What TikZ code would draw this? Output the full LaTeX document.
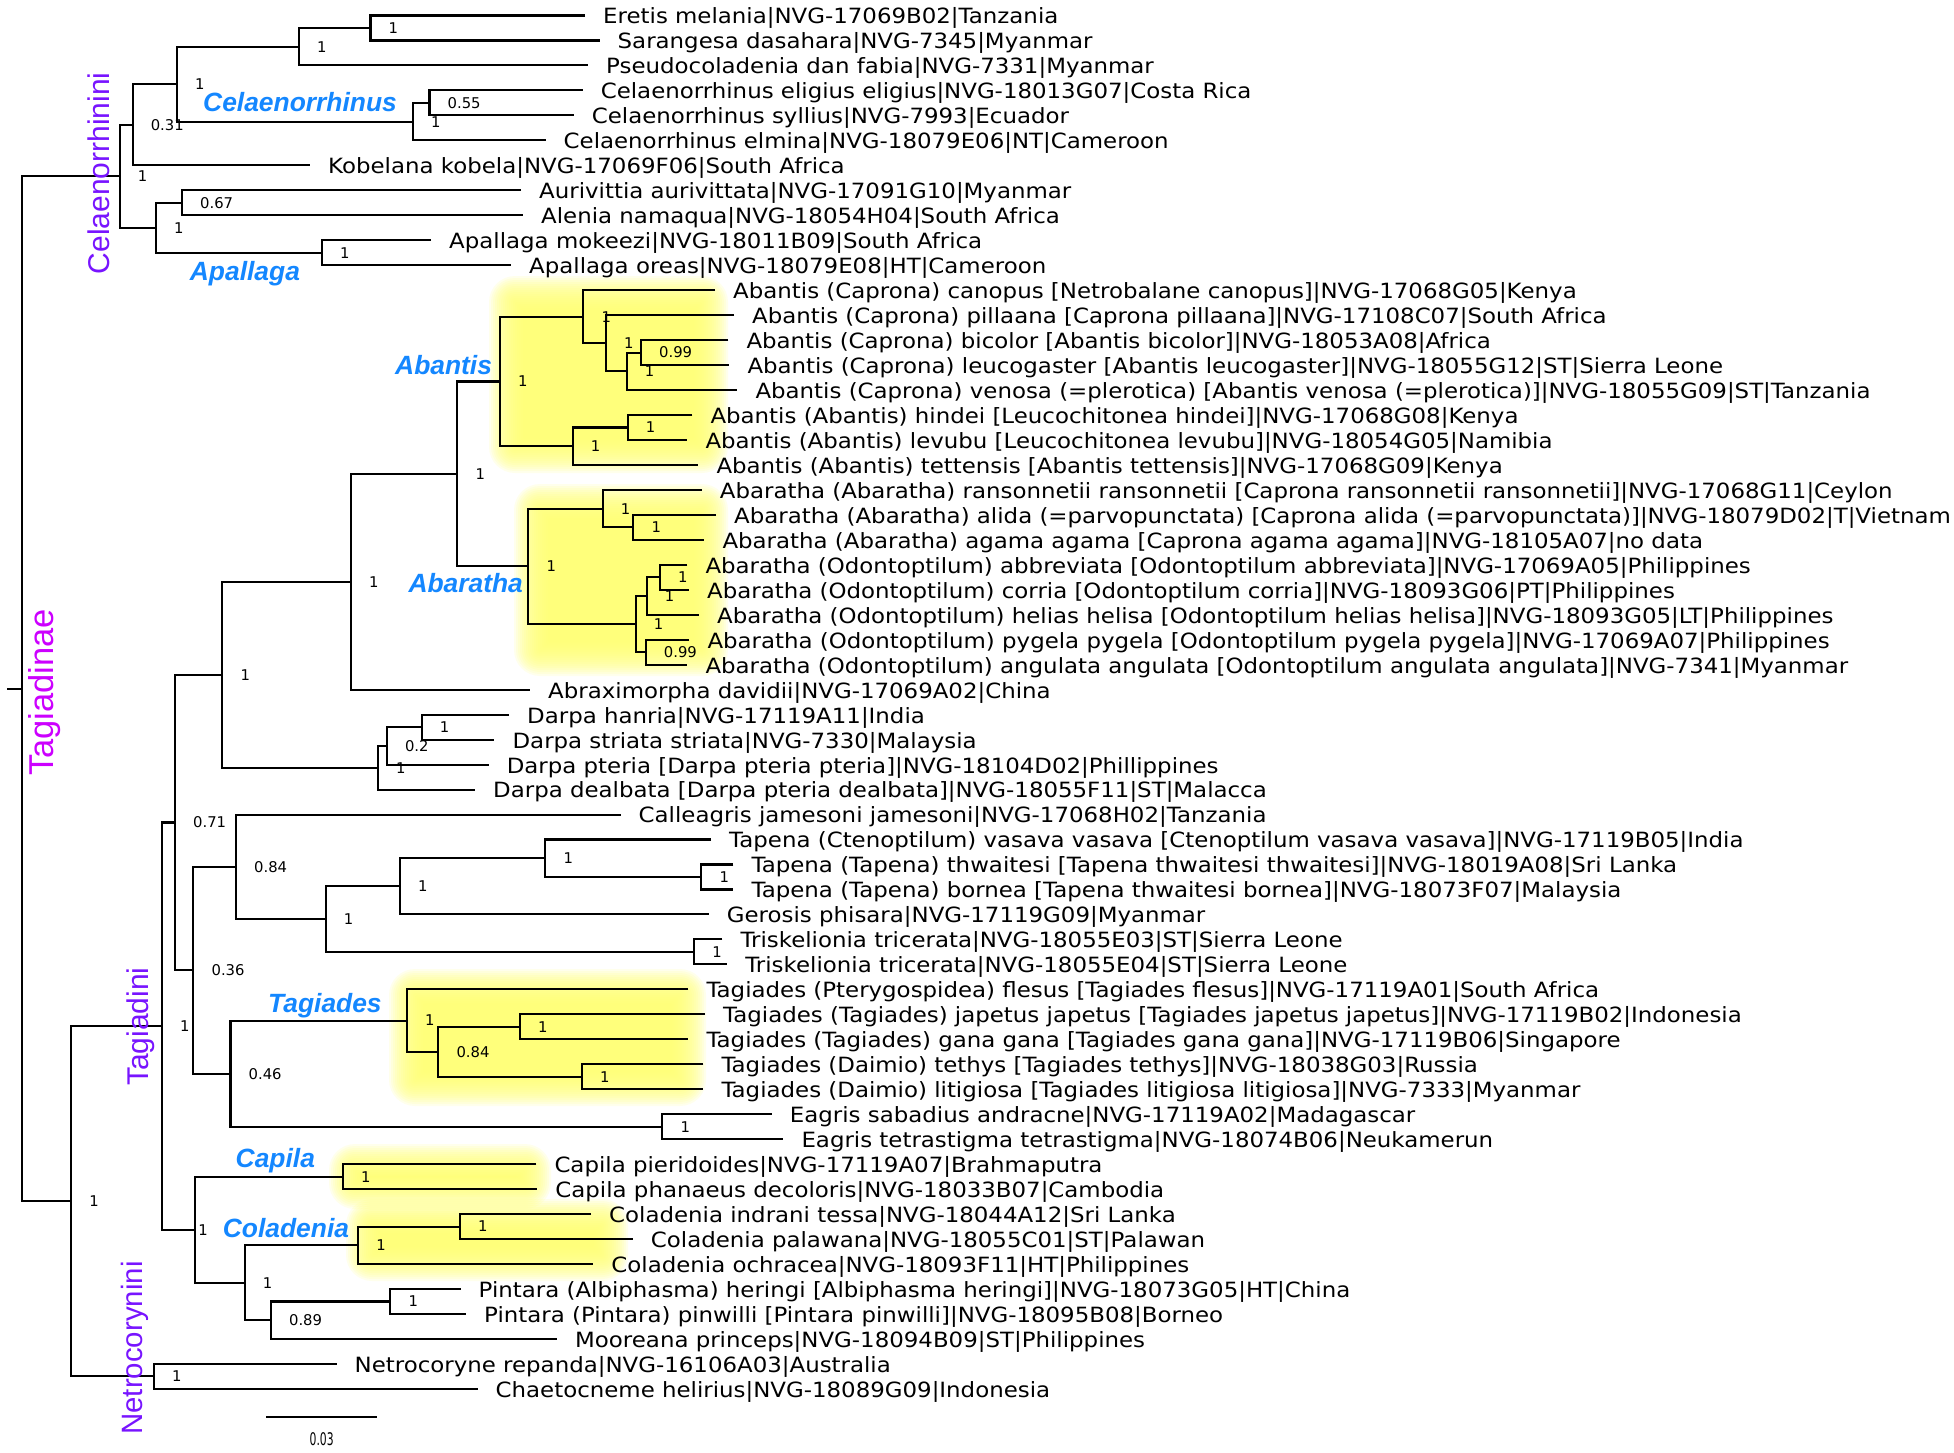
\documentclass[tikz,border=0pt]{standalone}
\usepackage{graphicx}
\usepackage{fontspec}
\setmainfont{DejaVu Sans}
\newfontfamily\leaffont{DejaVu Sans}[FakeStretch=1.09]
\newfontfamily\supfont{DejaVu Sans}
\newfontfamily\arialf{Liberation Sans}
\usetikzlibrary{calc}
\definecolor{vio}{RGB}{120,20,255}
\definecolor{mag}{RGB}{204,0,255}
\definecolor{cladeblue}{RGB}{20,135,255}
\definecolor{hly}{RGB}{255,255,115}
% leaf: index, tip x, text
\newcommand\lf[3]{\coordinate (l#1) at (#2, {15.5+24.97*(#1-1)});
  \node[leaflab] (t#1) at ([xshift=18pt,yshift=-8.4pt]l#1) {#3};}
% internal node coordinate: name, x, child1, child2
\newcommand\inode[4]{\path let \p1=(#3), \p2=(#4) in coordinate (#1) at (#2pt, {(\y1+\y2)/2});}
% clade: [label shift] name, x, child1, child2, support
\newcommand\cl[6][18pt]{\inode{#2}{#3}{#4}{#5}
  \draw[branch] (#4) -| (#2) |- (#5);
  \node[bslab] (s#2) at ([xshift=#1]#2) {#6};}
% soft highlight
\newcommand\glow[4]{\foreach \k in {0,...,17}{%
  \pgfmathsetmacro\ee{18-2*\k}\pgfmathsetmacro\rr{max(\ee+8,2)}%
  \fill[hly, fill opacity=0.13, rounded corners=\rr pt] ({#1-\ee},{#2-\ee}) rectangle ({#3+\ee},{#4+\ee});}}
\begin{document}
\begin{tikzpicture}[x=1pt,y=-1pt,
  branch/.style={line width=2.1pt, black},
  leaflab/.style={anchor=base west, inner sep=0pt, font=\leaffont\fontsize{21}{24}\selectfont},
  bslab/.style={anchor=west, inner sep=0pt, font=\supfont\fontsize{14.8}{16}\selectfont},
  cladelab/.style={anchor=base west, inner sep=0pt, text=cladeblue, font=\arialf\bfseries\itshape\fontsize{26.4}{30}\selectfont},
  tribe/.style={rotate=90, anchor=base, inner sep=0pt, text=vio, font=\arialf\fontsize{30}{32}\selectfont}]
\fill[white] (0,0) rectangle (1954,1452);
\useasboundingbox (0,0) rectangle (1954,1452);
% highlights
\glow{507}{294}{710}{455}
\glow{532}{502}{710}{658}
\glow{407}{987}{688}{1088}
\glow{347}{1162}{533}{1191}
\glow{364}{1217}{610}{1263}
% leaves
\lf{1}{585}{Eretis melania|NVG-17069B02|Tanzania}
\lf{2}{599.5}{Sarangesa dasahara|NVG-7345|Myanmar}
\lf{3}{588}{Pseudocoladenia dan fabia|NVG-7331|Myanmar}
\lf{4}{582.6}{Celaenorrhinus eligius eligius|NVG-18013G07|Costa Rica}
\lf{5}{573.7}{Celaenorrhinus syllius|NVG-7993|Ecuador}
\lf{6}{545.5}{Celaenorrhinus elmina|NVG-18079E06|NT|Cameroon}
\lf{7}{310}{Kobelana kobela|NVG-17069F06|South Africa}
\lf{8}{521}{Aurivittia aurivittata|NVG-17091G10|Myanmar}
\lf{9}{523}{Alenia namaqua|NVG-18054H04|South Africa}
\lf{10}{431}{Apallaga mokeezi|NVG-18011B09|South Africa}
\lf{11}{511}{Apallaga oreas|NVG-18079E08|HT|Cameroon}
\lf{12}{715}{Abantis (Caprona) canopus [Netrobalane canopus]|NVG-17068G05|Kenya}
\lf{13}{734}{Abantis (Caprona) pillaana [Caprona pillaana]|NVG-17108C07|South Africa}
\lf{14}{728.3}{Abantis (Caprona) bicolor [Abantis bicolor]|NVG-18053A08|Africa}
\lf{15}{729.3}{Abantis (Caprona) leucogaster [Abantis leucogaster]|NVG-18055G12|ST|Sierra Leone}
\lf{16}{737.3}{Abantis (Caprona) venosa (=plerotica) [Abantis venosa (=plerotica)]|NVG-18055G09|ST|Tanzania}
\lf{17}{692.3}{Abantis (Abantis) hindei [Leucochitonea hindei]|NVG-17068G08|Kenya}
\lf{18}{687.3}{Abantis (Abantis) levubu [Leucochitonea levubu]|NVG-18054G05|Namibia}
\lf{19}{698.3}{Abantis (Abantis) tettensis [Abantis tettensis]|NVG-17068G09|Kenya}
\lf{20}{701.7}{Abaratha (Abaratha) ransonnetii ransonnetii [Caprona ransonnetii ransonnetii]|NVG-17068G11|Ceylon}
\lf{21}{716}{Abaratha (Abaratha) alida (=parvopunctata) [Caprona alida (=parvopunctata)]|NVG-18079D02|T|Vietnam}
\lf{22}{704.3}{Abaratha (Abaratha) agama agama [Caprona agama agama]|NVG-18105A07|no data}
\lf{23}{687.3}{Abaratha (Odontoptilum) abbreviata [Odontoptilum abbreviata]|NVG-17069A05|Philippines}
\lf{24}{689}{Abaratha (Odontoptilum) corria [Odontoptilum corria]|NVG-18093G06|PT|Philippines}
\lf{25}{699}{Abaratha (Odontoptilum) helias helisa [Odontoptilum helias helisa]|NVG-18093G05|LT|Philippines}
\lf{26}{689.3}{Abaratha (Odontoptilum) pygela pygela [Odontoptilum pygela pygela]|NVG-17069A07|Philippines}
\lf{27}{687.3}{Abaratha (Odontoptilum) angulata angulata [Odontoptilum angulata angulata]|NVG-7341|Myanmar}
\lf{28}{530}{Abraximorpha davidii|NVG-17069A02|China}
\lf{29}{509}{Darpa hanria|NVG-17119A11|India}
\lf{30}{494.4}{Darpa striata striata|NVG-7330|Malaysia}
\lf{31}{488.6}{Darpa pteria [Darpa pteria pteria]|NVG-18104D02|Phillippines}
\lf{32}{475}{Darpa dealbata [Darpa pteria dealbata]|NVG-18055F11|ST|Malacca}
\lf{33}{620.5}{Calleagris jamesoni jamesoni|NVG-17068H02|Tanzania}
\lf{34}{711}{Tapena (Ctenoptilum) vasava vasava [Ctenoptilum vasava vasava]|NVG-17119B05|India}
\lf{35}{733.4}{Tapena (Tapena) thwaitesi [Tapena thwaitesi thwaitesi]|NVG-18019A08|Sri Lanka}
\lf{36}{733.4}{Tapena (Tapena) bornea [Tapena thwaitesi bornea]|NVG-18073F07|Malaysia}
\lf{37}{708.7}{Gerosis phisara|NVG-17119G09|Myanmar}
\lf{38}{722.3}{Triskelionia tricerata|NVG-18055E03|ST|Sierra Leone}
\lf{39}{727.1}{Triskelionia tricerata|NVG-18055E04|ST|Sierra Leone}
\lf{40}{688.3}{Tagiades (Pterygospidea) flesus [Tagiades flesus]|NVG-17119A01|South Africa}
\lf{41}{705}{Tagiades (Tagiades) japetus japetus [Tagiades japetus japetus]|NVG-17119B02|Indonesia}
\lf{42}{688.3}{Tagiades (Tagiades) gana gana [Tagiades gana gana]|NVG-17119B06|Singapore}
\lf{43}{703.3}{Tagiades (Daimio) tethys [Tagiades tethys]|NVG-18038G03|Russia}
\lf{44}{703.3}{Tagiades (Daimio) litigiosa [Tagiades litigiosa litigiosa]|NVG-7333|Myanmar}
\lf{45}{771.7}{Eagris sabadius andracne|NVG-17119A02|Madagascar}
\lf{46}{783.3}{Eagris tetrastigma tetrastigma|NVG-18074B06|Neukamerun}
\lf{47}{536.3}{Capila pieridoides|NVG-17119A07|Brahmaputra}
\lf{48}{537.2}{Capila phanaeus decoloris|NVG-18033B07|Cambodia}
\lf{49}{591}{Coladenia indrani tessa|NVG-18044A12|Sri Lanka}
\lf{50}{632.7}{Coladenia palawana|NVG-18055C01|ST|Palawan}
\lf{51}{593.2}{Coladenia ochracea|NVG-18093F11|HT|Philippines}
\lf{52}{460.5}{Pintara (Albiphasma) heringi [Albiphasma heringi]|NVG-18073G05|HT|China}
\lf{53}{466}{Pintara (Pintara) pinwilli [Pintara pinwilli]|NVG-18095B08|Borneo}
\lf{54}{557}{Mooreana princeps|NVG-18094B09|ST|Philippines}
\lf{55}{336.5}{Netrocoryne repanda|NVG-16106A03|Australia}
\lf{56}{477.5}{Chaetocneme helirius|NVG-18089G09|Indonesia}
% Celaenorrhinini
\cl{nD}{370.5}{l1}{l2}{1}
\cl{nC}{299}{nD}{l3}{1}
\cl{nF}{429.5}{l4}{l5}{0.55}
\cl{nE}{413}{nF}{l6}{1}
\cl{nB}{176.8}{nC}{nE}{1}
\cl{nA}{132.6}{nB}{l7}{0.31}
\cl{nH}{182}{l8}{l9}{0.67}
\cl{nI}{322}{l10}{l11}{1}
\cl{nG}{155.8}{nH}{nI}{1}
\cl{nCL}{119.6}{nA}{nG}{1}
% Abantis
\cl{nP}{641}{l14}{l15}{0.99}
\cl{nO}{626.7}{nP}{l16}{1}
\cl{nN}{606}{l13}{nO}{1}
\cl{nM}{583.3}{l12}{nN}{1}
\cl{nR}{627.7}{l17}{l18}{1}
\cl{nQ}{572.7}{nR}{l19}{1}
\cl{nL}{500}{nM}{nQ}{1}
% Abaratha
\cl{nU}{633.3}{l21}{l22}{1}
\cl{nT}{602.7}{l20}{nU}{1}
\cl{nX}{660}{l23}{l24}{1}
\cl{nW}{646.7}{nX}{l25}{1}
\cl{nY}{645.7}{l26}{l27}{0.99}
\cl{nV}{635.7}{nW}{nY}{1}
\cl{nS}{528.3}{nT}{nV}{1}
\cl{nJ}{457.3}{nL}{nS}{1}
\cl{nK}{351}{nJ}{l28}{1}
% Darpa
\cl{nAD}{421.7}{l29}{l30}{1}
\cl{nAC}{386.8}{nAD}{l31}{0.2}
\cl{nAB}{378}{nAC}{l32}{1}
\cl{nZ}{222.3}{nK}{nAB}{1}
% Tapena etc
\cl{nAK}{701.4}{l35}{l36}{1}
\cl{nAJ}{545.3}{l34}{nAK}{1}
\cl{nAI}{400}{nAJ}{l37}{1}
\cl{nAL}{694.1}{l38}{l39}{1}
\cl{nAH}{325.7}{nAI}{nAL}{1}
\cl{nAG}{236}{l33}{nAH}{0.84}
% Tagiades
\cl{nAQ}{520}{l41}{l42}{1}
\cl{nAR}{582}{l43}{l44}{1}
\cl{nAP}{438.3}{nAQ}{nAR}{0.84}
\cl{nAO}{406.8}{l40}{nAP}{1}
\cl{nAS}{662.3}{l45}{l46}{1}
\cl{nAN}{230.5}{nAO}{nAS}{0.46}
\cl{nAF}{193.4}{nAG}{nAN}{0.36}
\cl{nAA}{175}{nZ}{nAF}{0.71}
% Capila, Coladenia
\cl{nAU}{343}{l47}{l48}{1}
\cl{nAX}{460}{l49}{l50}{1}
\cl{nAW}{358.1}{nAX}{l51}{1}
\cl{nAZ}{390.3}{l52}{l53}{1}
\cl{nAY}{270.9}{nAZ}{l54}{0.89}
\cl{nAV}{244.7}{nAW}{nAY}{1}
\cl[3pt]{nAT}{195.1}{nAU}{nAV}{1}
\cl{nAE}{162}{nAA}{nAT}{1}
\cl{nBA}{153.8}{l55}{l56}{1}
\cl{nAM}{71.2}{nAE}{nBA}{1}
% root
\inode{nR0}{21.7}{nCL}{nAM}
\draw[branch] (nCL) -| (nR0) |- (nAM);
\coordinate (rs) at ([xshift=-14.4pt]nR0);
\draw[branch] (rs) -- (nR0);
% clade names
\node[cladelab] (cCel) at (203,111.7) {Celaenorrhinus};
\node[cladelab] (cApa) at (189.7,280) {Apallaga};
\node[cladelab] (cAbn) at (395,374) {Abantis};
\node[cladelab] (cAbr) at (408.3,592) {Abaratha};
\node[cladelab] (cTag) at (268,1012.5) {Tagiades};
\node[cladelab] (cCap) at (235.5,1167) {Capila};
\node[cladelab] (cCol) at (222.7,1237.5) {Coladenia};
% tribes
\node[tribe] (rCel) at (109.4,173.3) {Celaenorrhinini};
\node[tribe, text=mag, font=\arialf\fontsize{34.5}{36}\selectfont] (rTagn) at (53.3,692.5) {Tagiadinae};
\node[tribe] (rTagd) at (148.5,1026.7) {Tagiadini};
\node[tribe, font=\arialf\fontsize{29.4}{31}\selectfont] (rNet) at (142.5,1348) {Netrocorynini};
% scale bar
\coordinate (sb1) at (266,1417.3);
\coordinate (sb2) at (376.7,1417.3);
\draw[branch] (sb1) -- (sb2);
\node[inner sep=0pt] (sbl) at (321.7,1438.7) {\scalebox{0.62}[1]{\fontsize{17.4}{18}\selectfont 0.03}};
\end{tikzpicture}
\end{document}
